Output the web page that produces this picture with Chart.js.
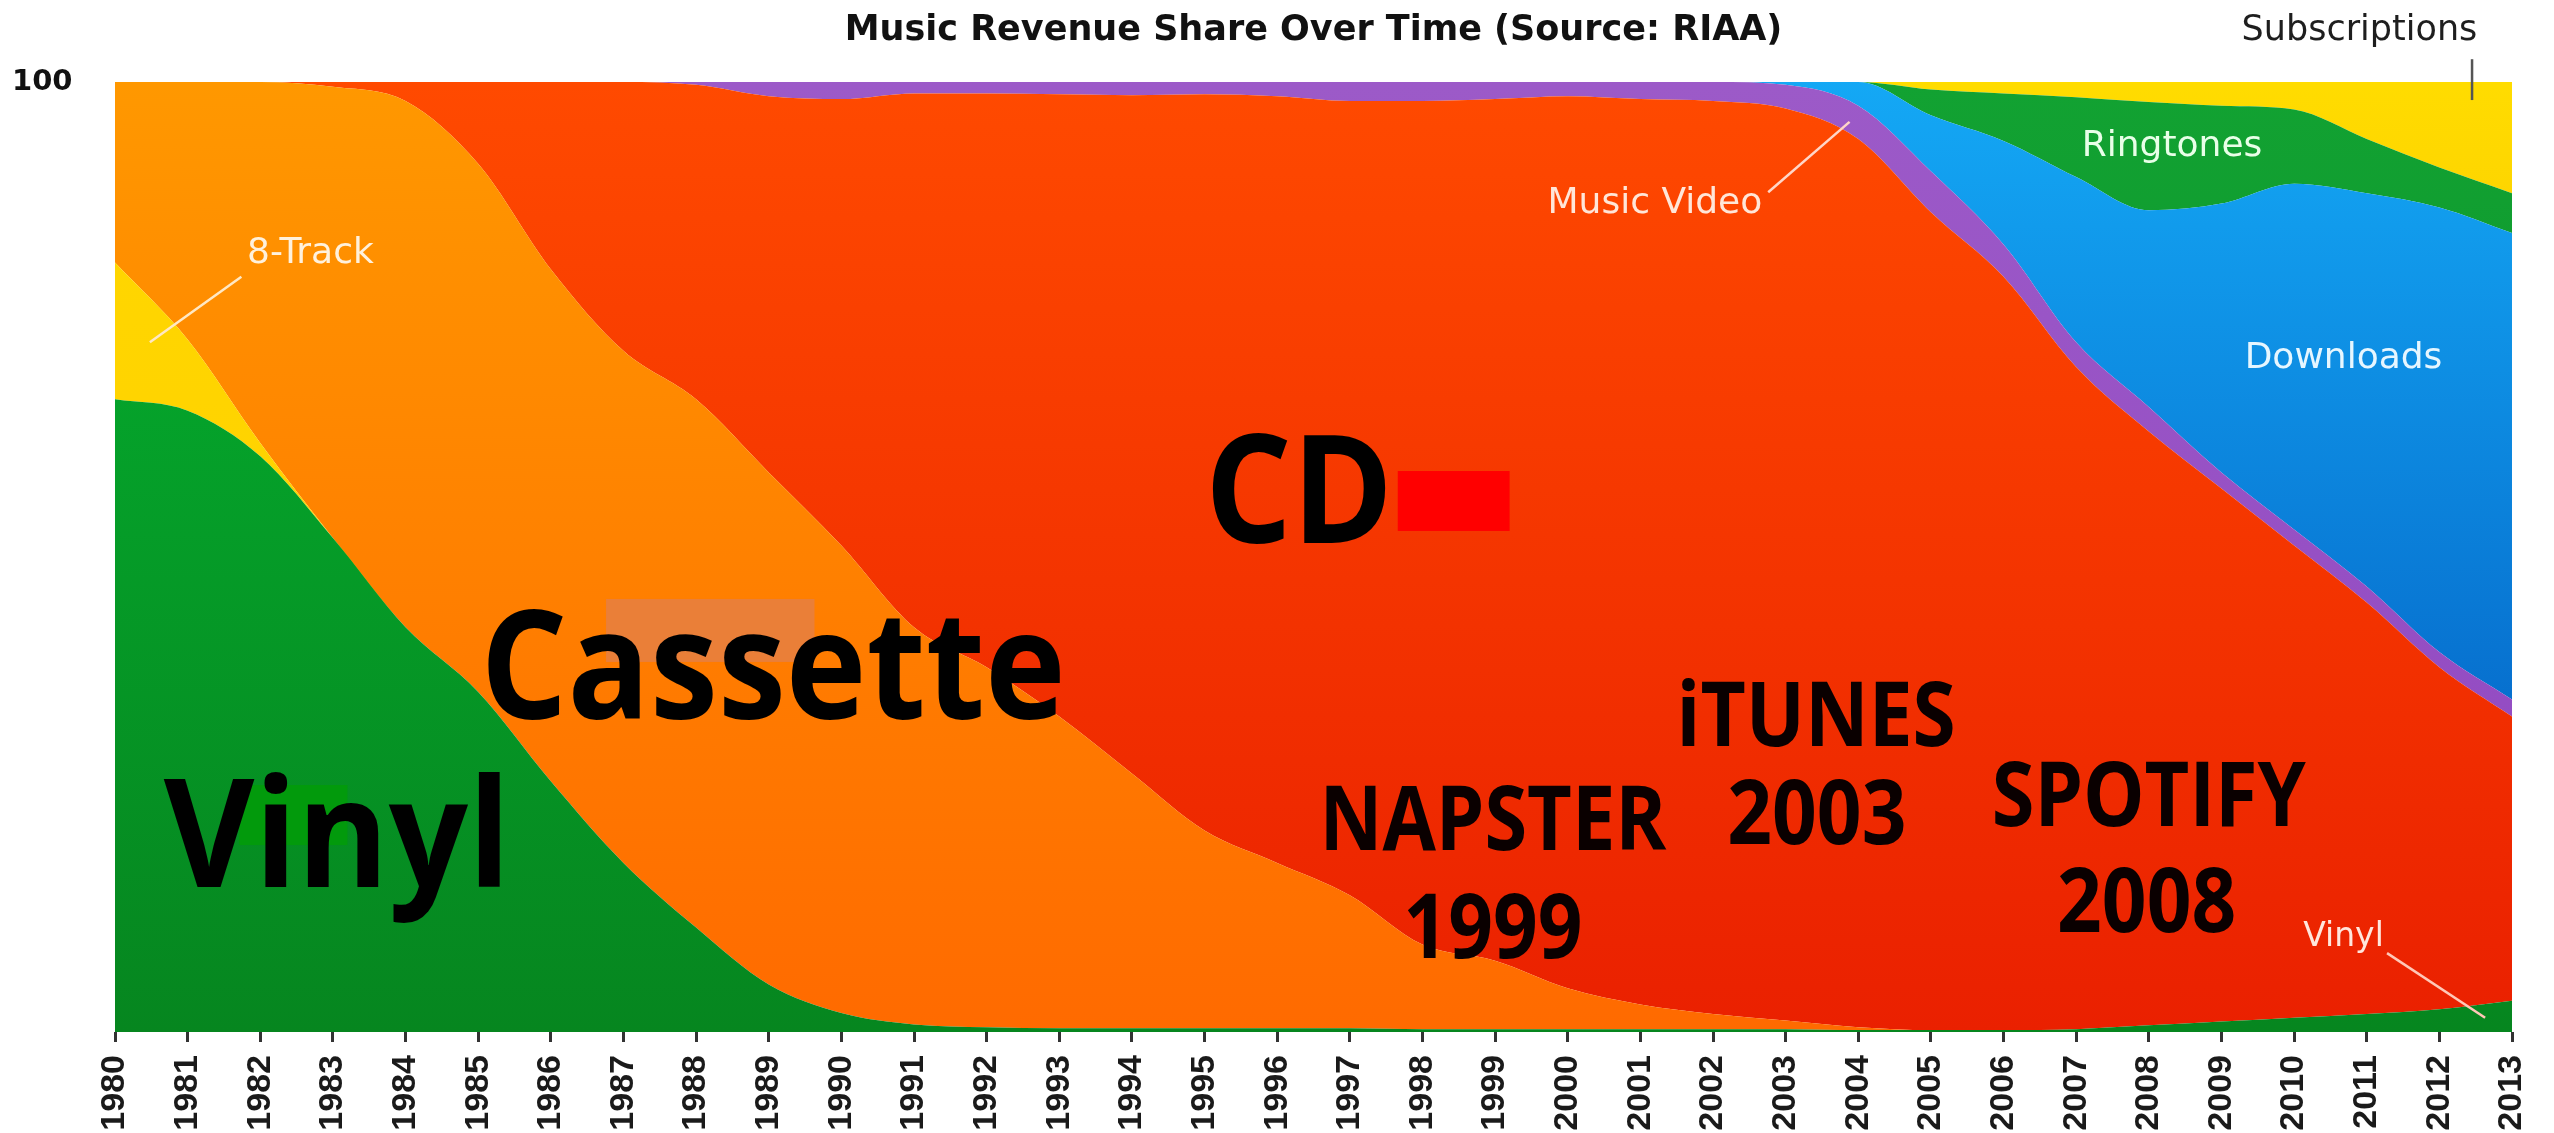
<!DOCTYPE html>
<html>
<head>
<meta charset="utf-8">
<title>Music Revenue Share Over Time</title>
<script src="https://cdn.jsdelivr.net/npm/chart.js@4.4.1/dist/chart.umd.min.js"></script>
<style>
    html, body { margin: 0; padding: 0; background: #ffffff; overflow: hidden; }
    canvas { display: block; }
</style>
</head>
<body>
<canvas id="revenueChart" width="2554" height="1133"></canvas>
<script>
// Years along the x axis
const years = ['1980', '1981', '1982', '1983', '1984', '1985', '1986', '1987', '1988', '1989',
               '1990', '1991', '1992', '1993', '1994', '1995', '1996', '1997', '1998', '1999',
               '2000', '2001', '2002', '2003', '2004', '2005', '2006', '2007', '2008', '2009',
               '2010', '2011', '2012', '2013'];

// Revenue share per format in percent, stacked bottom to top
const vinyl = [66.6, 65.4, 60.6, 52.0, 42.6, 35.8, 26.4, 17.8, 11.0, 5.0,
               2.0, 0.8, 0.5, 0.4, 0.4, 0.4, 0.4, 0.4, 0.3, 0.3,
               0.3, 0.3, 0.3, 0.3, 0.2, 0.2, 0.2, 0.3, 0.7, 1.1,
               1.5, 1.9, 2.4, 3.3];
const eightTrack = [14.4, 7.5, 1.4, 0, 0, 0, 0, 0, 0, 0,
                    0, 0, 0, 0, 0, 0, 0, 0, 0, 0,
                    0, 0, 0, 0, 0, 0, 0, 0, 0, 0,
                    0, 0, 0, 0];
const cassette = [19.0, 27.1, 38.0, 47.5, 55.4, 55.6, 53.9, 53.9, 55.6, 53.9,
                  49.2, 41.8, 37.9, 32.8, 26.8, 20.8, 17.4, 14.0, 8.9, 7.2,
                  4.3, 2.6, 1.6, 0.9, 0.3, 0, 0, 0, 0, 0,
                  0, 0, 0, 0];
const cd = [0, 0, 0, 0.5, 2.0, 8.6, 19.7, 28.3, 33.1, 39.6,
            47.0, 56.2, 60.4, 65.5, 71.4, 77.5, 80.7, 83.6, 88.8, 90.7,
            93.9, 95.3, 96.1, 96.0, 93.5, 86.1, 79.3, 69.7, 62.5, 56.1,
            49.7, 43.3, 36.0, 29.9];
const musicVideo = [0, 0, 0, 0, 0, 0, 0, 0, 0.3, 1.5,
                    1.8, 1.2, 1.2, 1.3, 1.4, 1.3, 1.5, 2.0, 2.0, 1.8,
                    1.5, 1.8, 2.0, 2.5, 3.5, 4.3, 3.4, 2.6, 2.6, 1.7,
                    1.7, 1.7, 1.6, 1.8];
const downloads = [0, 0, 0, 0, 0, 0, 0, 0, 0, 0,
                   0, 0, 0, 0, 0, 0, 0, 0, 0, 0,
                   0, 0, 0, 0.3, 2.5, 5.9, 10.9, 17.4, 20.7, 28.3,
                   36.4, 41.4, 46.8, 49.1];
const ringtones = [0, 0, 0, 0, 0, 0, 0, 0, 0, 0,
                   0, 0, 0, 0, 0, 0, 0, 0, 0, 0,
                   0, 0, 0, 0, 0, 2.7, 5.0, 8.4, 11.4, 10.3,
                   7.8, 5.7, 4.2, 4.2];
const subscriptions = [0, 0, 0, 0, 0, 0, 0, 0, 0, 0,
                       0, 0, 0, 0, 0, 0, 0, 0, 0, 0,
                       0, 0, 0, 0, 0, 0.8, 1.2, 1.6, 2.1, 2.5,
                       2.9, 6.0, 9.0, 11.7];

// Text drawn over the areas, placed in year / percent coordinates
const areaLabels = [
    { text: 'Subscriptions', year: 2010.9, value: 105.4, font: '35px "DejaVu Sans"', color: '#1e1e1e' },
    { text: '8-Track', year: 1982.69, value: 81.9, font: '36px "DejaVu Sans"', color: '#fff1dc' },
    { text: 'Music Video', year: 2001.2, value: 87.2, font: '36px "DejaVu Sans"', color: '#ffe6d8' },
    { text: 'Ringtones', year: 2008.32, value: 93.2, font: '36px "DejaVu Sans"', color: '#e8ffe8' },
    { text: 'Downloads', year: 2010.68, value: 70.9, font: '36px "DejaVu Sans"', color: '#e6f6ff' },
    { text: 'Vinyl', year: 2010.68, value: 10.0, font: '33px "DejaVu Sans"', color: '#ffe6dc' },
    { text: 'CD', year: 1996.3, value: 51.5, font: 'bold 150px "Open Sans"', color: '#000', squeeze: 0.91, baseline: 'alphabetic' },
    { text: 'Cassette', year: 1989.06, value: 33.0, font: 'bold 150px "Open Sans"', color: '#000', squeeze: 0.91, baseline: 'alphabetic' },
    { text: 'Vinyl', year: 1983.06, value: 15.3, font: 'bold 150px "Open Sans"', color: '#000', squeeze: 0.93, baseline: 'alphabetic' },
    { text: 'NAPSTER', year: 1998.97, value: 19.2, font: 'bold 90px "Open Sans"', color: '#0a0000', squeeze: 0.86, baseline: 'alphabetic' },
    { text: '1999', year: 1998.97, value: 7.8, font: 'bold 90px "Open Sans"', color: '#0a0000', squeeze: 0.87, baseline: 'alphabetic' },
    { text: 'iTUNES', year: 2003.42, value: 30.1, font: 'bold 90px "Open Sans"', color: '#0a0000', squeeze: 0.87, baseline: 'alphabetic' },
    { text: '2003', year: 2003.43, value: 19.8, font: 'bold 90px "Open Sans"', color: '#0a0000', squeeze: 0.87, baseline: 'alphabetic' },
    { text: 'SPOTIFY', year: 2008.0, value: 21.7, font: 'bold 90px "Open Sans"', color: '#0a0000', squeeze: 0.86, baseline: 'alphabetic' },
    { text: '2008', year: 2007.97, value: 10.5, font: 'bold 90px "Open Sans"', color: '#0a0000', squeeze: 0.87, baseline: 'alphabetic' }
];

// Leader lines from the callouts to their areas
const leaderLines = [
    { from: [1981.74, 79.5], to: [1980.48, 72.6], color: '#ffe8c4' },
    { from: [2002.76, 88.4], to: [2003.88, 95.8], color: '#ffd6c8' },
    { from: [2011.28, 8.3], to: [2012.63, 1.5], color: '#ffc8b8' },
    { from: [2012.45, 102.4], to: [2012.45, 98.1], color: '#555555' }
];

// Flat patches sitting behind the big labels
const patches = [
    { x0: 1997.66, x1: 1999.2, y0: 59.05, y1: 52.74, color: '#ff0000' },
    { x0: 1986.76, x1: 1989.63, y0: 45.58, y1: 38.95, color: '#ea7f38' },
    { x0: 1981.71, x1: 1983.2, y0: 26.0, y1: 19.68, color: '#029a0c' }
];

// Vertical gradient across the plot area
function verticalGradient(top, bottom) {
    return function(context) {
        const chart = context.chart;
        const area = chart.chartArea;
        if (!area) return top;
        const g = chart.ctx.createLinearGradient(0, area.top, 0, area.bottom);
        g.addColorStop(0, top);
        g.addColorStop(1, bottom);
        return g;
    };
}

function makeLayer(label, data, top, bottom, fill) {
    return {
        label: label,
        data: data,
        backgroundColor: verticalGradient(top, bottom),
        borderWidth: 0,
        fill: fill,
        pointRadius: 0,
        cubicInterpolationMode: 'monotone'
    };
}

// Draws the callout texts, leader lines and patches
const annotationPlugin = {
    id: 'areaAnnotations',
    afterDatasetsDraw(chart) {
        const ctx = chart.ctx;
        const xs = chart.scales.x;
        const ys = chart.scales.y;
        const px = year => xs.getPixelForValue(year - Number(years[0]));
        const py = value => ys.getPixelForValue(value);

        ctx.save();
        patches.forEach(p => {
            ctx.fillStyle = p.color;
            ctx.fillRect(px(p.x0), py(p.y0), px(p.x1) - px(p.x0), py(p.y1) - py(p.y0));
        });

        leaderLines.forEach(l => {
            ctx.beginPath();
            ctx.strokeStyle = l.color;
            ctx.lineWidth = 2.5;
            ctx.moveTo(px(l.from[0]), py(l.from[1]));
            ctx.lineTo(px(l.to[0]), py(l.to[1]));
            ctx.stroke();
        });

        areaLabels.forEach(t => {
            ctx.save();
            ctx.translate(px(t.year), py(t.value));
            ctx.scale(t.squeeze || 1, 1);
            ctx.font = t.font;
            ctx.fillStyle = t.color;
            ctx.textAlign = 'center';
            ctx.textBaseline = t.baseline || 'middle';
            ctx.fillText(t.text, 0, 0);
            ctx.restore();
        });
        ctx.restore();
    }
};

function initializeRevenueChart() {
    const ctx = document.getElementById('revenueChart').getContext('2d');

    new Chart(ctx, {
        type: 'line',
        data: {
            labels: years,
            datasets: [
                makeLayer('Vinyl', vinyl, '#04b030', '#06861f', 'origin'),
                makeLayer('8-Track', eightTrack, '#ffd800', '#ffcc00', '-1'),
                makeLayer('Cassette', cassette, '#ff9800', '#ff6a00', '-1'),
                makeLayer('CD', cd, '#ff4a00', '#ea2000', '-1'),
                makeLayer('Music Video', musicVideo, '#9c5ac8', '#9046c0', '-1'),
                makeLayer('Downloads', downloads, '#14a8f5', '#0052ba', '-1'),
                makeLayer('Ringtones', ringtones, '#12a232', '#0a8a28', '-1'),
                makeLayer('Subscriptions', subscriptions, '#ffdc00', '#f2a400', '-1')
            ]
        },
        options: {
            responsive: false,
            devicePixelRatio: 1,
            animation: false,
            layout: {
                padding: { left: 12, right: 42, top: 0, bottom: 0 }
            },
            scales: {
                x: {
                    offset: false,
                    grid: {
                        display: true,
                        drawOnChartArea: false,
                        drawTicks: true,
                        tickLength: 10,
                        lineWidth: 3,
                        color: '#333333'
                    },
                    border: { display: false },
                    ticks: {
                        minRotation: 90,
                        maxRotation: 90,
                        autoSkip: false,
                        padding: 13,
                        color: '#1a1a1a',
                        font: { family: '"Liberation Sans Narrow", Arial, sans-serif', weight: 'bold', size: 34 }
                    },
                    afterFit: function(scale) {
                        scale.height = 101;
                        // let the layout padding decide the plot edges
                        scale.paddingLeft = 0;
                        scale.paddingRight = 0;
                    }
                },
                y: {
                    stacked: true,
                    min: 0,
                    max: 100,
                    grid: { display: false },
                    border: { display: false },
                    ticks: {
                        stepSize: 100,
                        crossAlign: 'far',
                        color: '#111111',
                        font: { family: '"DejaVu Sans", sans-serif', weight: 'bold', size: 29 },
                        callback: function(value) { return value === 100 ? '100' : ''; }
                    },
                    afterFit: function(scale) { scale.width = 103; }
                }
            },
            plugins: {
                legend: {
                    display: false
                },
                tooltip: {
                    enabled: false
                },
                title: {
                    display: true,
                    fullSize: false,
                    text: 'Music Revenue Share Over Time (Source: RIAA)',
                    color: '#111111',
                    font: { family: '"DejaVu Sans", sans-serif', weight: 'bold', size: 35 },
                    padding: { top: 10, bottom: 30 }
                }
            }
        },
        plugins: [annotationPlugin]
    });
}

document.addEventListener('DOMContentLoaded', function() {
    initializeRevenueChart();
});
</script>
</body>
</html>
